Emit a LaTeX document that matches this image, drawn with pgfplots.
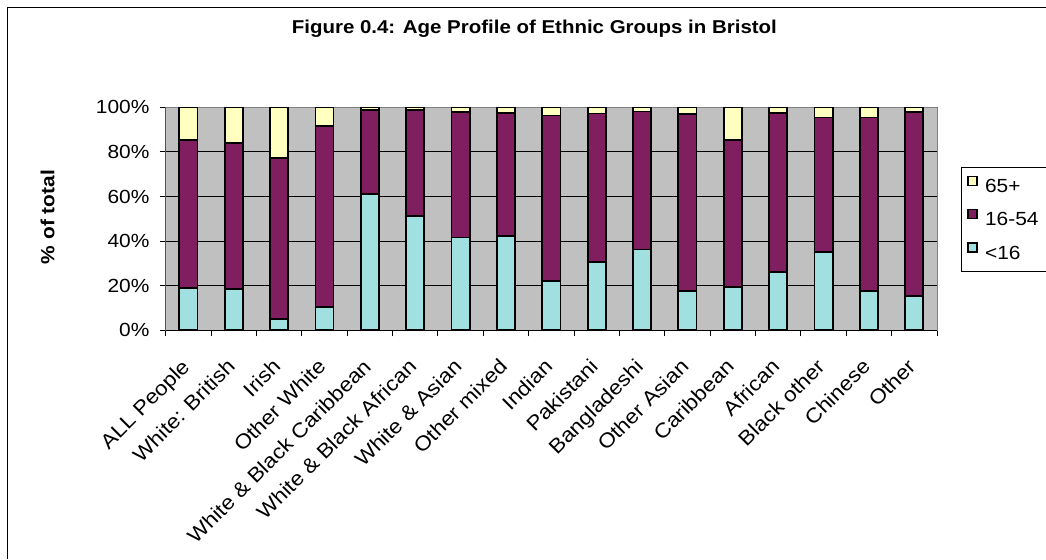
\documentclass[border=0pt]{standalone}
\usepackage{fontspec}
\setmainfont[FakeStretch=1.1]{Liberation Sans}
\usepackage{pgfplots}
\pgfplotsset{compat=1.18}
\usepackage{pgfplotstable}

\definecolor{under16}{HTML}{A0E0E0}
\definecolor{working}{HTML}{7F1F5F}
\definecolor{over65}{HTML}{FFFFC0}
\definecolor{plotbg}{HTML}{C0C0C0}
\definecolor{frame}{HTML}{808080}

% Age profile by ethnic group, % of each group
\pgfplotstableread{
idx lt16  mid   old
0   19.1  66.1  14.8
1   18.4  65.6  16.0
2   5.1   72.3  22.6
3   10.5  81.0  8.5
4   61.3  37.4  1.3
5   51.1  47.6  1.3
6   41.6  56.2  2.2
7   42.2  55.3  2.5
8   22.1  74.2  3.7
9   30.5  66.7  2.8
10  36.2  61.9  1.9
11  17.5  79.4  3.1
12  19.3  66.2  14.5
13  26.0  71.5  2.5
14  35.0  60.4  4.6
15  17.5  77.9  4.6
16  15.5  82.3  2.2
}\agedata

\begin{document}
\begin{tikzpicture}[x=1pt,y=1pt]
\useasboundingbox (0,0) rectangle (523,279.5);
% chart frame
\draw[black,line width=0.5pt] (3.5,0) -- (3.5,276) -- (523,276);
\begin{axis}[
  at={(82.85pt,114.35pt)}, anchor=south west,
  scale only axis, width=385.65pt, height=111.5pt,
  ybar stacked, bar width=0.4,
  xmin=-0.5, xmax=16.5, ymin=0, ymax=100,
  axis background/.style={fill=plotbg},
  axis line style={draw=frame, line width=0.5pt},
  font=\fontsize{9.5}{11.4}\selectfont,
  /pgf/number format/assume math mode=true,
  ytick={0,20,...,100},
  yticklabel={\pgfmathprintnumber{\tick}\%},
  yticklabel style={xshift=-1.6pt},
  ymajorgrids, grid style={black, line width=0.5pt},
  xtick={0,...,16},
  xticklabels={ALL People, White: British, Irish, Other White,
    White \& Black Caribbean, White \& Black African, White \& Asian,
    Other mixed, Indian, Pakistani, Bangladeshi, Other Asian, Caribbean,
    African, Black other, Chinese, Other},
  minor xtick={-0.5,0.5,...,16.5},
  major x tick style={draw=none},
  minor x tick style={black, line width=0.5pt},
  major y tick style={black, line width=0.5pt},
  tick align=outside, tick pos=left,
  major tick length=3pt, minor tick length=3pt,
  xticklabel style={font=\fontsize{10.2}{12}\selectfont,
    xshift=-4pt, yshift=-9pt, rotate=45, anchor=north east, inner sep=1pt},
  ylabel={\bfseries \% of total},
  ylabel style={at={(axis description cs:-0.153,0.508)}, anchor=center, rotate=0},
  title={\fontsize{9.3}{11}\selectfont\bfseries Figure 0.4: Age Profile of Ethnic Groups in Bristol},
  title style={at={(axis description cs:0.478,1.30)}, anchor=center},
  reverse legend,
  legend style={at={(rel axis cs:1.031,0.734)}, anchor=north west,
    draw=black, line width=0.5pt, fill=white,
    font=\fontsize{9.5}{11.4}\selectfont,
    nodes={inner sep=1pt, text height=7pt, text depth=1pt},
    row sep=6.25pt, inner xsep=3pt, inner ysep=4.25pt,
    legend cell align=left},
  legend image code/.code={%
    \path[draw=none, fill=none] (0pt,0pt) -- (7.5pt,0pt);
    \draw[#1, line width=0.7pt] (0pt,0.6pt) rectangle (4.5pt,5.1pt);},
]
\addplot+[fill=under16, draw=black, line width=0.9pt] table[x=idx,y=lt16] {\agedata};
\addplot+[fill=working, draw=black, line width=0.9pt] table[x=idx,y=mid] {\agedata};
\addplot+[fill=over65, draw=black, line width=0.9pt] table[x=idx,y=old] {\agedata};
\legend{\textless16, 16-54, 65+}
% black value and category axes over the grey frame
\draw[black, line width=0.5pt] (rel axis cs:0,1) -- (rel axis cs:0,0) -- (rel axis cs:1,0);
\end{axis}
\end{tikzpicture}
\end{document}
